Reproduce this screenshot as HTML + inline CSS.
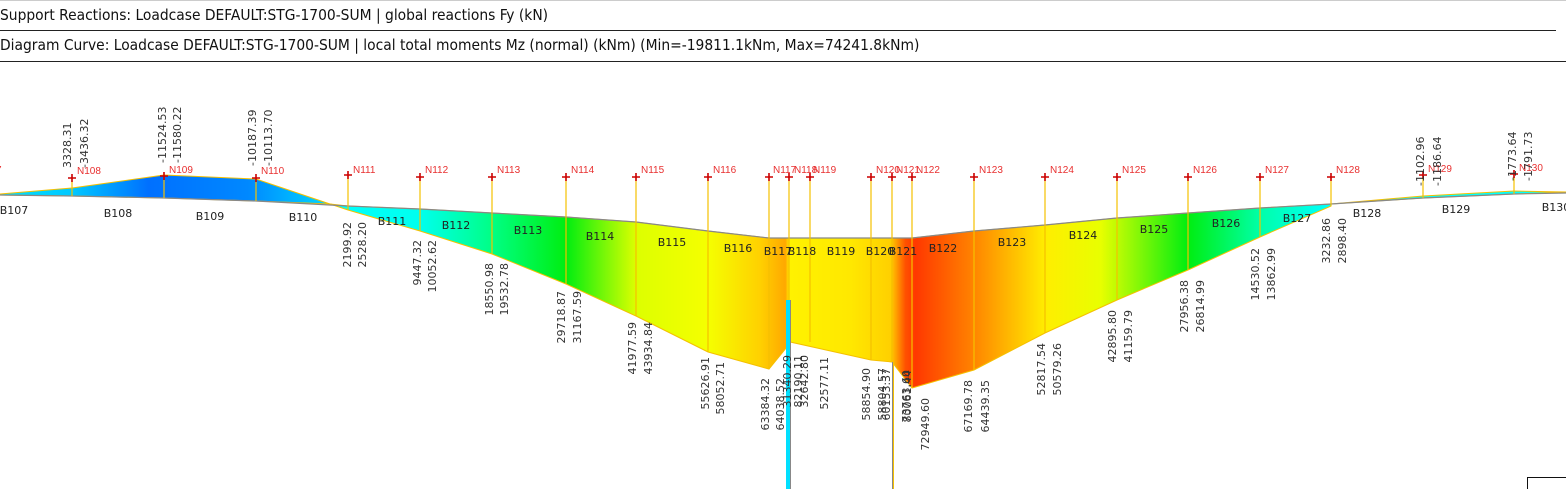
<!DOCTYPE html>
<html><head><meta charset="utf-8"><style>
html,body{margin:0;padding:0;background:#fff;width:1566px;height:489px;overflow:hidden}
svg{display:block}
.h{font-family:"DejaVu Sans Condensed","Liberation Sans Narrow","Liberation Sans",sans-serif;font-size:15.4px;fill:#111}
.n{font-family:"Liberation Sans",sans-serif;font-size:10px;fill:#e83030}
.b{font-family:"DejaVu Sans","Liberation Sans",sans-serif;font-size:11px;fill:#222;text-anchor:middle}
.v{font-family:"DejaVu Sans","Liberation Sans",sans-serif;font-size:11px;fill:#333}
</style></head><body>
<svg width="1566" height="489" viewBox="0 0 1566 489" xmlns="http://www.w3.org/2000/svg">
<defs>
<linearGradient id="gl" gradientUnits="userSpaceOnUse" x1="0" y1="0" x2="330" y2="0">
<stop offset="0" stop-color="#00e0ff"/><stop offset="0.22" stop-color="#00c8ff"/><stop offset="0.45" stop-color="#0070ff"/><stop offset="0.75" stop-color="#0088ff"/><stop offset="1" stop-color="#00d8ff"/>
</linearGradient>
<linearGradient id="gm" gradientUnits="userSpaceOnUse" x1="330" y1="0" x2="1331" y2="0">
<stop offset="0" stop-color="#00ffff"/>
<stop offset="0.09" stop-color="#00ffee"/>
<stop offset="0.16" stop-color="#00ff88"/>
<stop offset="0.236" stop-color="#00ee10"/>
<stop offset="0.306" stop-color="#ddff00"/>
<stop offset="0.378" stop-color="#f5ff00"/>
<stop offset="0.43" stop-color="#ffd000"/>
<stop offset="0.455" stop-color="#ffa800"/>
<stop offset="0.459" stop-color="#fff200"/>
<stop offset="0.52" stop-color="#ffe800"/>
<stop offset="0.56" stop-color="#ffd000"/>
<stop offset="0.575" stop-color="#ff5000"/>
<stop offset="0.585" stop-color="#ff3800"/>
<stop offset="0.64" stop-color="#ff8000"/>
<stop offset="0.715" stop-color="#ffee00"/>
<stop offset="0.77" stop-color="#e8ff00"/>
<stop offset="0.857" stop-color="#00ee10"/>
<stop offset="0.93" stop-color="#00ffaa"/>
<stop offset="1" stop-color="#00ffff"/>
</linearGradient>
</defs>
<rect x="0" y="0" width="1566" height="1" fill="#ccc"/>
<text class="h" x="0" y="20">Support Reactions: Loadcase DEFAULT:STG-1700-SUM | global reactions Fy (kN)</text>
<rect x="0" y="30" width="1556" height="1" fill="#222"/>
<text class="h" x="0" y="50">Diagram Curve: Loadcase DEFAULT:STG-1700-SUM | local total moments Mz (normal) (kNm) (Min=-19811.1kNm, Max=74241.8kNm)</text>
<rect x="0" y="61" width="1566" height="1" fill="#222"/>

<polygon fill="url(#gl)" stroke="#f5c000" stroke-width="1" points="0,194 72,188 164,175 256,179 330,204 256,201 164,198 72,196 0,195"/>
<polygon fill="url(#gm)" stroke="#f5c000" stroke-width="1" points="330,204 348,206 420,209 492,213 566,217 636,222 708,231 769,238 912,238 974,231 1045,225 1117,218 1188,213 1260,208 1331,204 1331,206 1260,237 1188,270 1117,300 1045,333 974,370 912,388 892,362 871,360 790,342 787,347 769,369 708,352 636,316 566,284 492,254 420,231 348,210"/>
<polygon fill="#00ffff" stroke="#f5c000" stroke-width="1" points="1331,204 1423,196 1514,191 1566,192 1514,194 1423,198"/>
<rect x="786" y="300" width="4" height="189" fill="#00e0ff"/>
<line x1="790.5" y1="300" x2="790.5" y2="489" stroke="#888"/>
<line x1="892.5" y1="362" x2="892.5" y2="489" stroke="#888"/>
<line x1="893.5" y1="362" x2="893.5" y2="489" stroke="#f5c000"/>
<polyline fill="none" stroke="#888" stroke-width="1.2" points="0,195 72,196 164,198 256,201 348,206 420,209 492,213 566,217 636,222 708,231 769,238 912,238 974,231 1045,225 1117,218 1188,213 1260,208 1331,204 1423,198 1514,194 1566,193"/>

<g stroke="#f5c000" stroke-width="1.2">
<line x1="72" y1="178" x2="72" y2="196"/><line x1="164" y1="176" x2="164" y2="198"/><line x1="256" y1="178" x2="256" y2="201"/>
<line x1="348" y1="175" x2="348" y2="210"/><line x1="420" y1="177" x2="420" y2="231"/><line x1="492" y1="177" x2="492" y2="254"/>
<line x1="566" y1="177" x2="566" y2="284"/><line x1="636" y1="177" x2="636" y2="316"/><line x1="708" y1="177" x2="708" y2="352"/>
<line x1="769" y1="177" x2="769" y2="369"/><line x1="789" y1="177" x2="789" y2="300"/><line x1="810" y1="177" x2="810" y2="342"/>
<line x1="871" y1="177" x2="871" y2="360"/><line x1="892" y1="177" x2="892" y2="362"/><line x1="912" y1="177" x2="912" y2="388"/>
<line x1="974" y1="177" x2="974" y2="370"/><line x1="1045" y1="177" x2="1045" y2="333"/><line x1="1117" y1="177" x2="1117" y2="300"/>
<line x1="1188" y1="177" x2="1188" y2="270"/><line x1="1260" y1="177" x2="1260" y2="237"/><line x1="1331" y1="177" x2="1331" y2="206"/>
<line x1="1423" y1="175" x2="1423" y2="198"/><line x1="1514" y1="174" x2="1514" y2="194"/>
</g>
<g stroke="#cc0000" stroke-width="1.6">
<path d="M68 178h8M72 174v8M160 176h8M164 172v8M252 178h8M256 174v8M344 175h8M348 171v8M416 177h8M420 173v8M488 177h8M492 173v8M562 177h8M566 173v8M632 177h8M636 173v8M704 177h8M708 173v8M765 177h8M769 173v8M785 177h8M789 173v8M806 177h8M810 173v8M867 177h8M871 173v8M888 177h8M892 173v8M908 177h8M912 173v8M970 177h8M974 173v8M1041 177h8M1045 173v8M1113 177h8M1117 173v8M1184 177h8M1188 173v8M1256 177h8M1260 173v8M1327 177h8M1331 173v8M1419 175h8M1423 171v8M1510 174h8M1514 170v8"/>
</g>
<g class="n">
<text x="-4" y="173">7</text>
<text x="77" y="174">N108</text><text x="169" y="173">N109</text><text x="261" y="174">N110</text>
<text x="353" y="173">N111</text><text x="425" y="173">N112</text><text x="497" y="173">N113</text><text x="571" y="173">N114</text>
<text x="641" y="173">N115</text><text x="713" y="173">N116</text><text x="773" y="173">N117</text><text x="794" y="173">N118</text>
<text x="813" y="173">N119</text><text x="876" y="173">N120</text><text x="896" y="173">N121</text><text x="916" y="173">N122</text>
<text x="979" y="173">N123</text><text x="1050" y="173">N124</text><text x="1122" y="173">N125</text><text x="1193" y="173">N126</text>
<text x="1265" y="173">N127</text><text x="1336" y="173">N128</text><text x="1428" y="172">N129</text><text x="1519" y="171">N130</text>
</g>
<g class="b">
<text x="14" y="214">B107</text><text x="118" y="217">B108</text><text x="210" y="220">B109</text><text x="303" y="221">B110</text>
<text x="392" y="225">B111</text><text x="456" y="229">B112</text><text x="528" y="234">B113</text><text x="600" y="240">B114</text>
<text x="672" y="246">B115</text><text x="738" y="252">B116</text><text x="778" y="255">B117</text><text x="802" y="255">B118</text>
<text x="841" y="255">B119</text><text x="880" y="255">B120</text><text x="903" y="255">B121</text><text x="943" y="252">B122</text>
<text x="1012" y="246">B123</text><text x="1083" y="239">B124</text><text x="1154" y="233">B125</text><text x="1226" y="227">B126</text>
<text x="1297" y="222">B127</text><text x="1367" y="217">B128</text><text x="1456" y="213">B129</text><text x="1556" y="211">B130</text>
</g>
<g class="v">
<text transform="translate(71,168) rotate(-90)">3328.31</text>
<text transform="translate(88,168) rotate(-90)">-3436.32</text>
<text transform="translate(166,163) rotate(-90)">-11524.53</text>
<text transform="translate(181,163) rotate(-90)">-11580.22</text>
<text transform="translate(256,166) rotate(-90)">-10187.39</text>
<text transform="translate(272,166) rotate(-90)">-10113.70</text>
<text transform="translate(1424,186) rotate(-90)">-1102.96</text>
<text transform="translate(1441,186) rotate(-90)">-1186.64</text>
<text transform="translate(1516,181) rotate(-90)">-1773.64</text>
<text transform="translate(1532,181) rotate(-90)">-1791.73</text>
</g>
<g class="v" text-anchor="end">
<text transform="translate(351,222) rotate(-90)">2199.92</text>
<text transform="translate(366,222) rotate(-90)">2528.20</text>
<text transform="translate(421,240) rotate(-90)">9447.32</text>
<text transform="translate(436,240) rotate(-90)">10052.62</text>
<text transform="translate(493,263) rotate(-90)">18550.98</text>
<text transform="translate(508,263) rotate(-90)">19532.78</text>
<text transform="translate(565,291) rotate(-90)">29718.87</text>
<text transform="translate(581,291) rotate(-90)">31167.59</text>
<text transform="translate(636,322) rotate(-90)">41977.59</text>
<text transform="translate(652,322) rotate(-90)">43934.84</text>
<text transform="translate(709,357) rotate(-90)">55626.91</text>
<text transform="translate(724,362) rotate(-90)">58052.71</text>
<text transform="translate(769,378) rotate(-90)">63384.32</text>
<text transform="translate(784,378) rotate(-90)">64038.52</text>
<text transform="translate(791,355) rotate(-90)">31340.29</text>
<text transform="translate(802,355) rotate(-90)">82190.11</text>
<text transform="translate(808,355) rotate(-90)">32642.80</text>
<text transform="translate(828,357) rotate(-90)">52577.11</text>
<text transform="translate(870,368) rotate(-90)">58854.90</text>
<text transform="translate(886,368) rotate(-90)">58804.57</text>
<text transform="translate(890,368) rotate(-90)">60153.37</text>
<text transform="translate(910,370) rotate(-90)">73763.60</text>
<text transform="translate(911,370) rotate(-90)">80061.44</text>
<text transform="translate(929,398) rotate(-90)">72949.60</text>
<text transform="translate(972,380) rotate(-90)">67169.78</text>
<text transform="translate(989,380) rotate(-90)">64439.35</text>
<text transform="translate(1045,343) rotate(-90)">52817.54</text>
<text transform="translate(1061,343) rotate(-90)">50579.26</text>
<text transform="translate(1116,310) rotate(-90)">42895.80</text>
<text transform="translate(1132,310) rotate(-90)">41159.79</text>
<text transform="translate(1188,280) rotate(-90)">27956.38</text>
<text transform="translate(1204,280) rotate(-90)">26814.99</text>
<text transform="translate(1259,248) rotate(-90)">14530.52</text>
<text transform="translate(1275,248) rotate(-90)">13862.99</text>
<text transform="translate(1330,218) rotate(-90)">3232.86</text>
<text transform="translate(1346,218) rotate(-90)">2898.40</text>
</g>
<path d="M1527.5 489V477.5H1566" fill="none" stroke="#111"/>
</svg>
</body></html>
